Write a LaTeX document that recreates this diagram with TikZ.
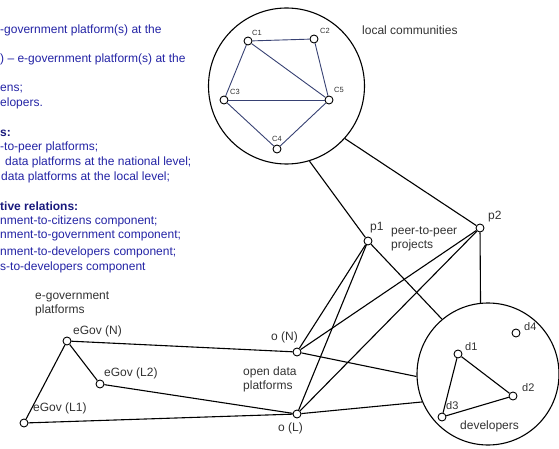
\documentclass[tikz,border=0pt]{standalone}
\usepackage{fontspec}
\setmainfont{Liberation Sans}
\usepackage{xcolor}
\definecolor{legendblue}{RGB}{35,35,165}
\definecolor{legendnavy}{RGB}{25,25,125}
\definecolor{commedge}{RGB}{55,65,115}
\definecolor{labelgray}{RGB}{50,50,50}

\begin{document}
\begin{tikzpicture}[x=1pt,y=-1pt,
  vertex/.style={circle,draw,fill=white,line width=0.9pt,minimum size=8pt,inner sep=0},
  group/.style={circle,draw,line width=1.1pt,inner sep=0},
  lbl/.style={font=\fontsize{12}{14}\selectfont,text=labelgray,inner sep=0,anchor=west,align=left},
  small/.style={font=\fontsize{7.5}{9}\selectfont,text=labelgray,inner sep=0,anchor=west},
  dlbl/.style={font=\fontsize{11}{13}\selectfont,text=labelgray,inner sep=0,anchor=west},
  legend/.style={font=\fontsize{12}{15}\selectfont,text=legendblue,inner sep=0,anchor=west},
  legendhead/.style={legend,text=legendnavy,font=\fontsize{12}{15}\selectfont\bfseries},
  link/.style={line width=1.1pt},
  clink/.style={line width=0.9pt,draw=commedge}]
\useasboundingbox (0,0) rectangle (559,449);
% legend (cut at the left edge)
\node[legend] (t1) at (0,30) {-government platform(s) at the};
\node[legend] (t2) at (0,59) {) -- e-government platform(s) at the};
\node[legend] (t3) at (0,89) {ens;};
\node[legend] (t4) at (0,103) {elopers.};
\node[legendhead] (t5) at (0,133) {s:};
\node[legend] (t6) at (0,147) {-to-peer platforms;};
\node[legend] (t7) at (5,162) {data platforms at the national level;};
\node[legend] (t8) at (1,177) {data platforms at the local level;};
\node[legendhead] (t9) at (0,206) {tive relations:};
\node[legend] (t10) at (0,221) {nment-to-citizens component;};
\node[legend] (t11) at (0,236) {nment-to-government component;};
\node[legend] (t12) at (0,252) {nment-to-developers component;};
\node[legend] (t13) at (0,267) {s-to-developers component};
% local communities
\node[group,minimum size=156pt] (comm) at (286.5,86) {};
\node[lbl] (commlbl) at (362,30) {local communities};
\node[vertex] (c1) at (248,41) {};
\node[vertex] (c2) at (314,39) {};
\node[vertex] (c3) at (224,100) {};
\node[vertex] (c4) at (277,149) {};
\node[vertex] (c5) at (329,100) {};
\node[small] at (252,33) {C1};
\node[small] at (320,31) {C2};
\node[small] at (230,92) {C3};
\node[small] at (272,139) {C4};
\node[small] at (334,90) {C5};
\draw[clink] (c1) -- (c2);
\draw[clink] (c2) -- (c5);
\draw[clink] (c1) -- (c5);
\draw[clink] (c1) -- (c3);
\draw[clink] (c3) -- (c5);
\draw[clink] (c3) -- (c4);
\draw[clink] (c4) -- (c5);
% developers
\node[group,minimum size=142pt] (dev) at (488,374) {};
\node[lbl] (devlbl) at (460,426) {developers};
\node[vertex] (d1) at (458,354) {};
\node[vertex] (d2) at (513,396) {};
\node[vertex] (d3) at (442,417) {};
\node[vertex] (d4) at (516,333) {};
\node[dlbl] at (465,347) {d1};
\node[dlbl] at (522,388) {d2};
\node[dlbl] at (446,406) {d3};
\node[dlbl] at (524,327) {d4};
\draw[link] (d1) -- (d2);
\draw[link] (d1) -- (d3);
\draw[link] (d3) -- (d2);
% peer-to-peer projects
\node[vertex] (p1) at (368,241) {};
\node[vertex] (p2) at (480,228) {};
\node[lbl] at (370,228) {p1};
\node[lbl] at (488,217) {p2};
\node[lbl] at (391,239) {peer-to-peer\\projects};
% open data platforms
\node[vertex] (oN) at (297,352) {};
\node[vertex] (oL) at (297,414) {};
\node[lbl,anchor=east] at (298,337) {o (N)};
\node[lbl] at (278,428) {o (L)};
\node[lbl] at (243,379) {open data\\platforms};
% e-government platforms
\node[vertex] (gN) at (67,341) {};
\node[vertex] (gL2) at (100,384) {};
\node[vertex] (gL1) at (24,423) {};
\node[lbl] at (73,331) {eGov (N)};
\node[lbl] at (104,373) {eGov (L2)};
\node[lbl] at (33,408) {eGov (L1)};
\node[lbl] at (35,304) {e-government\\platforms};
% links
\draw[link] (comm.287) -- (p1);
\draw[link] (comm.318) -- (p2);
\draw[link] (p1) -- (dev.130);
\draw[link] (p2) -- (dev.96);
\draw[link] (oN) -- (p1);
\draw[link] (oN) -- (p2);
\draw[link] (oL) -- (p1);
\draw[link] (oL) -- (p2);
\draw[link] (oN) -- (dev.182);
\draw[link] (oL) -- (dev.203);
\draw[link] (gN) -- (gL1);
\draw[link] (gN) -- (gL2);
\draw[link] (gN) -- (oN);
\draw[link] (gL2) -- (oL);
\draw[link] (gL1) -- (oL);
\end{tikzpicture}
\end{document}
